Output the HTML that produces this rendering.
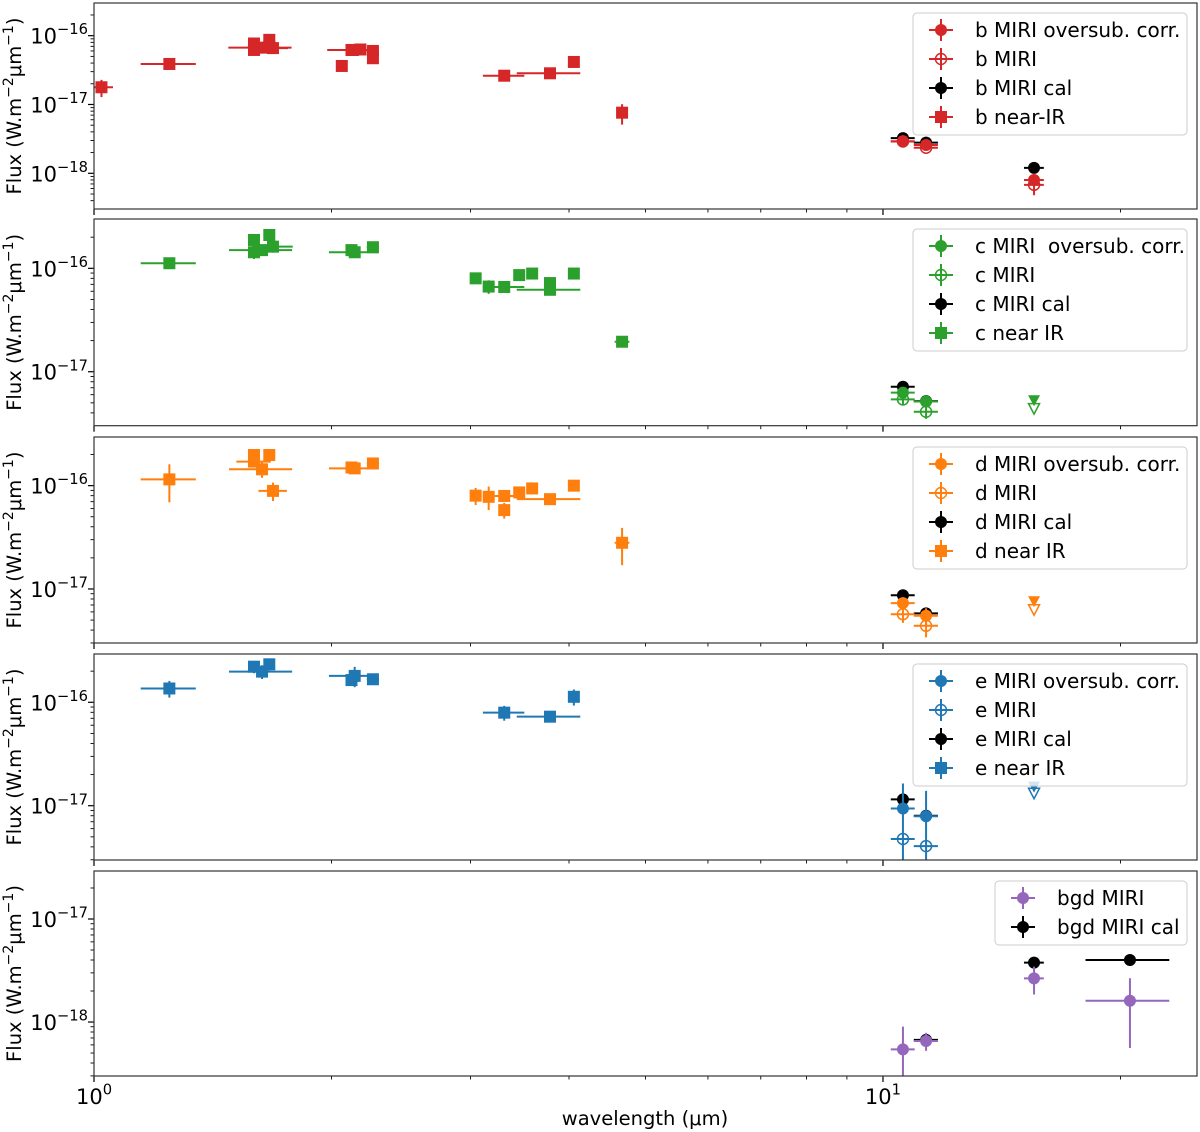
<!DOCTYPE html>
<html><head><meta charset="utf-8"><title>Flux vs wavelength</title>
<style>
html,body{margin:0;padding:0;background:#fff;}
svg{display:block;font-family:"DejaVu Sans","Liberation Sans",sans-serif;}
</style></head>
<body>
<svg id="chart" width="1200" height="1132" viewBox="0 0 1200 1132" xmlns="http://www.w3.org/2000/svg"></svg>
<script>
// ---------- data: panel b ----------
const bNirWl   = [1.022,1.246,1.595,1.595,1.63,1.668,1.668,1.686,2.061,2.12,2.13,2.176,2.257,2.257,3.311,3.784,4.057,4.67];
const bNirFlux = [1.78e-17,3.88e-17,7.7e-17,6.2e-17,6.7e-17,8.7e-17,6.9e-17,6.6e-17,3.63e-17,6.2e-17,6.2e-17,6.3e-17,6.0e-17,4.7e-17,2.62e-17,2.84e-17,4.15e-17,7.6e-18];
const bNirXerr = [0.035,0.1,0,0,0.15,0,0,0.075,0,0,0.155,0,0.04,0,0.2,0.35,0,0.06];
const bNirYerr = [5e-18,0,0,0,0,0,0,0,0,0,0,0,0,0,0,0,0,2.5e-18];
const bMiriWl = [10.6,11.34,15.54];
const bMiriXerr = [0.37,0.4,0.45];
const bCorrFlux = [2.92e-18,2.58e-18,8.0e-19];
const bCorrYerr = [1e-19,1e-19,1e-19];
const bRawFlux = [2.9e-18,2.35e-18,6.8e-19];
const bRawYerr = [0,1e-19,2e-19];
const bCalFlux = [3.24e-18,2.79e-18,1.2e-18];
const bCalYerr = [1e-19,1e-19,1e-19];
// ---------- data: panel c ----------
const cNirWl   = [1.246,1.595,1.595,1.633,1.668,1.686,2.12,2.14,2.257,3.046,3.164,3.311,3.459,3.592,3.784,3.784,4.057,4.67];
const cNirFlux = [1.12e-16,1.88e-16,1.43e-16,1.5e-16,2.1e-16,1.62e-16,1.5e-16,1.43e-16,1.6e-16,8.0e-17,6.66e-17,6.6e-17,8.6e-17,8.9e-17,7.2e-17,6.2e-17,8.9e-17,1.95e-17];
const cNirXerr = [0.1,0,0,0.15,0,0.1,0,0.155,0.04,0.05,0,0.2,0.04,0,0.05,0.35,0,0.1];
const cNirYerr = [8e-18,0,2e-17,1.5e-17,0,2e-17,0,0,8e-18,8e-18,1e-17,6e-18,1e-17,8e-18,1e-17,0,0,1.5e-18];
const cMiriWl = [10.6,11.34];
const cMiriXerr = [0.37,0.4];
const cCorrFlux = [6.27e-18,5.15e-18];
const cCorrYerr = [6e-19,6e-19];
const cRawFlux = [5.4e-18,4.1e-18];
const cRawYerr = [6e-19,6e-19];
const cCalFlux = [7.16e-18,5.2e-18];
const cCalYerr = [4e-19,3e-19];
const cLimWl = [15.54];
const cLimFilled = [5.3e-18];
const cLimOpen = [4.4e-18];
// ---------- data: panel d ----------
const dNirWl   = [1.246,1.595,1.595,1.633,1.668,1.686,2.12,2.14,2.257,3.046,3.164,3.311,3.311,3.459,3.592,3.784,4.057,4.67];
const dNirFlux = [1.15e-16,1.98e-16,1.71e-16,1.44e-16,1.98e-16,8.9e-17,1.5e-16,1.47e-16,1.64e-16,8.0e-17,7.8e-17,7.95e-17,5.8e-17,8.6e-17,9.4e-17,7.4e-17,1.0e-16,2.8e-17];
const dNirXerr = [0.1,0,0.08,0.15,0,0.07,0,0.155,0.04,0.05,0,0.2,0.05,0.04,0,0.35,0,0.1];
const dNirYerr = [4.6e-17,2e-17,2e-17,2.5e-17,1.5e-17,1.8e-17,0,0,8e-18,1.5e-17,2e-17,1e-17,1e-17,1.2e-17,8e-18,8e-18,5e-18,1.1e-17];
const dMiriWl = [10.6,11.34];
const dMiriXerr = [0.37,0.4];
const dCorrFlux = [7.3e-18,5.5e-18];
const dCorrYerr = [1e-18,1e-18];
const dRawFlux = [5.7e-18,4.4e-18];
const dRawYerr = [1e-18,1e-18];
const dCalFlux = [8.7e-18,5.8e-18];
const dCalYerr = [1e-18,6e-19];
const dLimWl = [15.54];
const dLimFilled = [7.6e-18];
const dLimOpen = [6.3e-18];
// ---------- data: panel e ----------
const eNirWl   = [1.246,1.595,1.633,1.668,2.12,2.14,2.257,3.311,3.784,4.057];
const eNirFlux = [1.36e-16,2.21e-16,1.98e-16,2.33e-16,1.64e-16,1.8e-16,1.67e-16,7.94e-17,7.26e-17,1.13e-16];
const eNirXerr = [0.1,0,0.15,0,0,0.155,0.04,0.2,0.35,0];
const eNirYerr = [2.5e-17,3e-17,3e-17,3e-17,2e-17,4e-17,1e-17,1.3e-17,5e-18,2e-17];
const eMiriWl = [10.6,11.34];
const eMiriXerr = [0.37,0.4];
const eCorrFlux = [9.4e-18,7.9e-18];
const eCorrYerr = [7e-18,6e-18];
const eRawFlux = [4.77e-18,4.07e-18];
const eRawYerr = [0,0];
const eCalFlux = [1.15e-17,8.0e-18];
const eCalYerr = [1.5e-18,1e-18];
const eLimWl = [15.54];
const eLimFilled = [1.53e-17];
const eLimOpen = [1.32e-17];
// ---------- data: background ----------
const gMiriWl = [10.6,11.34,15.54,20.56];
const gMiriFlux = [5.43e-19,6.55e-19,2.65e-18,1.61e-18];
const gMiriXerr = [0.37,0.4,0.45,2.5];
const gMiriYerr = [3.6e-19,1.3e-19,8e-19,1.05e-18];
const gCalWl = [11.34,15.54,20.56];
const gCalFlux = [6.7e-19,3.77e-18,4.0e-18];
const gCalXerr = [0.4,0.45,2.5];
const gCalYerr = [5e-20,3e-19,5e-19];
// ---------- axis ticks ----------
const xMajorTicks = [1,10];
const xMinorTicks = [2,3,4,5,6,7,8,9,20];

const NS = "http://www.w3.org/2000/svg";
const svg = document.getElementById('chart');
const X0 = 94, X1 = 1197, XLOGMIN = 0, XLOGMAX = 1.398;
function xs(v){ return X0 + (Math.log10(v) - XLOGMIN) / (XLOGMAX - XLOGMIN) * (X1 - X0); }
function mk(tag, attrs, parent){ const e = document.createElementNS(NS, tag); for (const k in attrs) e.setAttribute(k, attrs[k]); (parent||svg).appendChild(e); return e; }

const C = {red:'#d62728', green:'#2ca02c', orange:'#ff7f0e', blue:'#1f77b4', purple:'#9467bd', black:'#000'};

const panels = [
  {key:'b', top:3,   bot:209, lmin:-18.519, lmax:-15.525, color:C.red},
  {key:'c', top:219, bot:425.7, lmin:-17.522, lmax:-15.523, color:C.green},
  {key:'d', top:437, bot:643, lmin:-17.523, lmax:-15.529, color:C.orange},
  {key:'e', top:654, bot:860, lmin:-17.525, lmax:-15.533, color:C.blue},
  {key:'bgd', top:871, bot:1076, lmin:-18.524, lmax:-16.534, color:C.purple}
];
function ysFor(p){ return v => p.bot - (Math.log10(v) - p.lmin) / (p.lmax - p.lmin) * (p.bot - p.top); }

function drawErr(g, x, y, xl, xr, yt, yb, color){
  if (xr - xl > 0.5) mk('line',{x1:xl,y1:y,x2:xr,y2:y,stroke:color,'stroke-width':2},g);
  if (yb - yt > 0.5) mk('line',{x1:x,y1:yt,x2:x,y2:yb,stroke:color,'stroke-width':2},g);
}
function drawSeries(g, p, wl, flux, xerr, yerr, color, marker, name){
  const ys = ysFor(p);
  for (let i=0;i<wl.length;i++){
    const x = xs(wl[i]), y = ys(flux[i]);
    const xe = xerr ? xerr[i] : 0, ye = yerr ? yerr[i] : 0;
    const xl = xe>0 ? xs(wl[i]-xe) : x, xr = xe>0 ? xs(wl[i]+xe) : x;
    const yt = ye>0 ? ys(flux[i]+ye) : y;
    const lo = flux[i]-ye;
    const yb = ye>0 ? (lo>0 ? Math.min(ys(lo), p.bot+50) : p.bot+50) : y;
    const mg = mk('g',{},g);
    
    
    drawErr(mg, x, y, xl, xr, yt, yb, color);
    drawMarker(mg, x, y, marker, color);
  }
}
function drawMarker(g, x, y, marker, color){
  if (marker==='square') mk('rect',{x:x-6,y:y-6,width:12,height:12,fill:color},g);
  else if (marker==='circle') mk('circle',{cx:x,cy:y,r:6,fill:color},g);
  else if (marker==='open') mk('circle',{cx:x,cy:y,r:5.5,fill:'none',stroke:color,'stroke-width':1.5},g);
  else if (marker==='tri') mk('path',{d:`M${x-6},${y-5} L${x+6},${y-5} L${x},${y+6} Z`,fill:color},g);
  else if (marker==='otri') mk('path',{d:`M${x-5.5},${y-5} L${x+5.5},${y-5} L${x},${y+5.5} Z`,fill:'none',stroke:color,'stroke-width':1.5},g);
}
function drawLimits(g, p, wl, vals, color, marker, name){
  const ys = ysFor(p);
  for (let i=0;i<wl.length;i++){
    const t = mk('g',{},g);
    
    
    drawMarker(t, xs(wl[i]), ys(vals[i]), marker, color);
  }
}
function supText(parent, x, y, base, sup, anchor, size){
  const t = mk('text',{x:x,y:y,'font-size':size,'text-anchor':anchor,fill:'#000'},parent);
  t.appendChild(document.createTextNode(base));
  const s = mk('tspan',{'font-size':size*0.7,dy:-size*0.45},t);
  s.textContent = sup;
  return t;
}

panels.forEach((p, pi) => {
  const g = mk('g',{});
  
  
  const ys = ysFor(p);
  const cp = mk('clipPath',{id:'clip'+pi},g);
  mk('rect',{x:X0,y:p.top,width:X1-X0,height:p.bot-p.top},cp);
  const ticks = mk('g',{},g);
  
  
  for (let d=Math.floor(p.lmin); d<=Math.ceil(p.lmax); d++){
    for (let m=1;m<10;m++){
      const lv = d + Math.log10(m);
      if (lv < p.lmin || lv > p.lmax) continue;
      const y = ys(Math.pow(10, lv));
      mk('line',{x1:X0,y1:y,x2:X0-(m===1?6:3.5),y2:y,stroke:'#000','stroke-width':m===1?1.2:0.9},ticks);
      if (m===1){
        const lab = supText(ticks, 88, y+8, '10', '\u2212'+(-d), 'end', 21);
        
        
      }
    }
  }
  const cy = (p.top+p.bot)/2;
  const yt = mk('text',{x:0,y:0,'font-size':19.5,'text-anchor':'middle',transform:`translate(21,${cy}) rotate(-90)`,fill:'#000'},g);
  
  
  yt.appendChild(document.createTextNode('Flux (W.m'));
  const s1 = mk('tspan',{'font-size':14,dy:-8},yt); s1.textContent='\u22122';
  const s2 = mk('tspan',{dy:8},yt); s2.textContent='\u03bcm';
  const s3 = mk('tspan',{'font-size':14,dy:-8},yt); s3.textContent='\u22121';
  const s4 = mk('tspan',{dy:8},yt); s4.textContent=')';
  const xt = mk('g',{},g);
  
  
  xMajorTicks.forEach(v => mk('line',{x1:xs(v),y1:p.bot,x2:xs(v),y2:p.bot+6,stroke:'#000','stroke-width':1.2},xt));
  xMinorTicks.forEach(v => mk('line',{x1:xs(v),y1:p.bot,x2:xs(v),y2:p.bot+3.5,stroke:'#000','stroke-width':0.9},xt));
  if (pi === panels.length-1){
    xMajorTicks.forEach((v,i) => {
      const l = supText(xt, xs(v), p.bot+28, '10', String(Math.round(Math.log10(v))), 'middle', 21);
      
      
    });
  }
  const dg = mk('g',{'clip-path':`url(#clip${pi})`},g);
  
  
  let legendItems;
  if (p.key==='b'){
    drawSeries(dg,p,bNirWl,bNirFlux,bNirXerr,bNirYerr,p.color,'square','b-near-ir');
    drawSeries(dg,p,bMiriWl,bCalFlux,bMiriXerr,bCalYerr,C.black,'circle','b-miri-cal');
    drawSeries(dg,p,bMiriWl,bRawFlux,bMiriXerr,bRawYerr,p.color,'open','b-miri');
    drawSeries(dg,p,bMiriWl,bCorrFlux,bMiriXerr,bCorrYerr,p.color,'circle','b-miri-oversub-corr');
    legendItems = [['b MIRI oversub. corr.','circle',p.color],['b MIRI','open',p.color],['b MIRI cal','circle',C.black],['b near-IR','square',p.color]];
  } else if (p.key==='c'){
    drawSeries(dg,p,cNirWl,cNirFlux,cNirXerr,cNirYerr,p.color,'square','c-near-ir');
    drawSeries(dg,p,cMiriWl,cCalFlux,cMiriXerr,cCalYerr,C.black,'circle','c-miri-cal');
    drawSeries(dg,p,cMiriWl,cRawFlux,cMiriXerr,cRawYerr,p.color,'open','c-miri');
    drawSeries(dg,p,cMiriWl,cCorrFlux,cMiriXerr,cCorrYerr,p.color,'circle','c-miri-oversub-corr');
    drawLimits(dg,p,cLimWl,cLimFilled,p.color,'tri','c-upper-limit-corr');
    drawLimits(dg,p,cLimWl,cLimOpen,p.color,'otri','c-upper-limit');
    legendItems = [['c MIRI\u00a0 oversub. corr.','circle',p.color],['c MIRI','open',p.color],['c MIRI cal','circle',C.black],['c near IR','square',p.color]];
  } else if (p.key==='d'){
    drawSeries(dg,p,dNirWl,dNirFlux,dNirXerr,dNirYerr,p.color,'square','d-near-ir');
    drawSeries(dg,p,dMiriWl,dCalFlux,dMiriXerr,dCalYerr,C.black,'circle','d-miri-cal');
    drawSeries(dg,p,dMiriWl,dRawFlux,dMiriXerr,dRawYerr,p.color,'open','d-miri');
    drawSeries(dg,p,dMiriWl,dCorrFlux,dMiriXerr,dCorrYerr,p.color,'circle','d-miri-oversub-corr');
    drawLimits(dg,p,dLimWl,dLimFilled,p.color,'tri','d-upper-limit-corr');
    drawLimits(dg,p,dLimWl,dLimOpen,p.color,'otri','d-upper-limit');
    legendItems = [['d MIRI oversub. corr.','circle',p.color],['d MIRI','open',p.color],['d MIRI cal','circle',C.black],['d near IR','square',p.color]];
  } else if (p.key==='e'){
    drawSeries(dg,p,eNirWl,eNirFlux,eNirXerr,eNirYerr,p.color,'square','e-near-ir');
    drawSeries(dg,p,eMiriWl,eCalFlux,eMiriXerr,eCalYerr,C.black,'circle','e-miri-cal');
    drawSeries(dg,p,eMiriWl,eRawFlux,eMiriXerr,eRawYerr,p.color,'open','e-miri');
    drawSeries(dg,p,eMiriWl,eCorrFlux,eMiriXerr,eCorrYerr,p.color,'circle','e-miri-oversub-corr');
    drawLimits(dg,p,eLimWl,eLimFilled,p.color,'tri','e-upper-limit-corr');
    drawLimits(dg,p,eLimWl,eLimOpen,p.color,'otri','e-upper-limit');
    legendItems = [['e MIRI oversub. corr.','circle',p.color],['e MIRI','open',p.color],['e MIRI cal','circle',C.black],['e near IR','square',p.color]];
  } else {
    drawSeries(dg,p,gCalWl,gCalFlux,gCalXerr,gCalYerr,C.black,'circle','bgd-miri-cal');
    drawSeries(dg,p,gMiriWl,gMiriFlux,gMiriXerr,gMiriYerr,p.color,'circle','bgd-miri');
    legendItems = [['bgd MIRI','circle',p.color],['bgd MIRI cal','circle',C.black]];
  }
  const fr = mk('rect',{x:X0,y:p.top,width:X1-X0,height:p.bot-p.top,fill:'none',stroke:'#333','stroke-width':1.2},g);
  
  
  const lg = mk('g',{},g);
  
  
  const small = p.key==='bgd';
  const lx = small ? 995 : 913, lw = 1187 - lx;
  const lh = legendItems.length*29 + 6;
  mk('rect',{x:lx,y:p.top+10,width:lw,height:lh,rx:4,fill:'#fff','fill-opacity':0.8,stroke:'#ccc','stroke-width':1},lg);
  legendItems.forEach((it,i) => {
    const ey = p.top + 27 + i*29;
    const mx = lx + 28;
    const eg = mk('g',{},lg);
    
    
    mk('line',{x1:mx-12,y1:ey,x2:mx+12,y2:ey,stroke:it[2],'stroke-width':2},eg);
    mk('line',{x1:mx,y1:ey-11,x2:mx,y2:ey+11,stroke:it[2],'stroke-width':2},eg);
    drawMarker(eg, mx, ey, it[1], it[2]);
    const t = mk('text',{x:lx+62,y:ey+7,'font-size':20,fill:'#000'},eg);
    t.textContent = it[0];
  });
});
const xl = mk('text',{x:645,y:1125,'font-size':19.5,'text-anchor':'middle',fill:'#000'});


xl.textContent = 'wavelength (\u03bcm)';
</script>
</body></html>
